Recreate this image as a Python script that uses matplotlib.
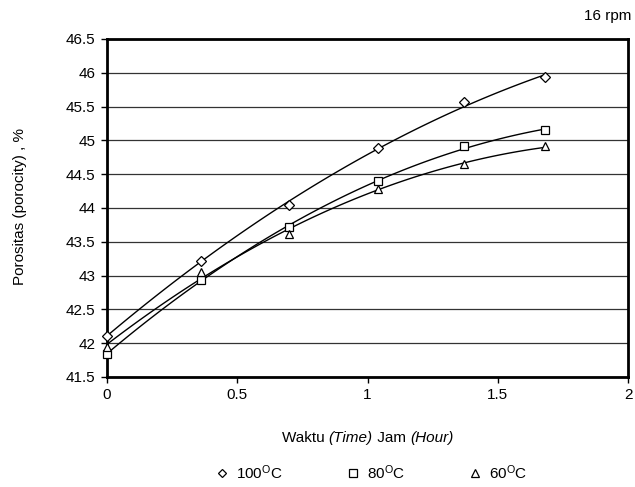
import numpy as np
import matplotlib
matplotlib.use("Agg")
import matplotlib.pyplot as plt

# data
waktu = [0, 0.36, 0.70, 1.04, 1.37, 1.68]
por_100 = [42.11, 43.22, 44.04, 44.88, 45.57, 45.93]
por_80 = [41.84, 42.93, 43.72, 44.40, 44.91, 45.15]
por_60 = [41.94, 43.05, 43.62, 44.28, 44.65, 44.91]
labels = ["100$^{\\mathrm{O}}$C", "80$^{\\mathrm{O}}$C", "60$^{\\mathrm{O}}$C"]
markers = ["D", "s", "^"]
y_ticks = [41.5, 42, 42.5, 43, 43.5, 44, 44.5, 45, 45.5, 46, 46.5]
x_ticks = [0, 0.5, 1, 1.5, 2]
xlabel_parts = [("Waktu ", "normal"), ("(Time)", "italic"), (" Jam ", "normal"), ("(Hour)", "italic")]

plt.rcParams["font.family"] = ["Liberation Sans", "DejaVu Sans"]
plt.rcParams["mathtext.fontset"] = "custom"
plt.rcParams["mathtext.rm"] = "Liberation Sans"
plt.rcParams["mathtext.it"] = "Liberation Sans:italic"

fig = plt.figure(figsize=(6.35, 4.87), dpi=100)
ax = fig.add_axes([0.168, 0.226, 0.8215, 0.694])

t = np.array(waktu)
handles = []
for ys, m, lab in zip([por_100, por_80, por_60], markers, labels):
    # excel style 2nd order trendline
    c = np.polyfit(t, ys, 2)
    tt = np.linspace(0, t[-1], 100)
    ax.plot(tt, np.polyval(c, tt), color="black", lw=1.0, zorder=3)
    ms = 5 if m == "D" else 6
    h, = ax.plot(t, ys, linestyle="none", marker=m, ms=ms, mfc="white",
                 mec="black", mew=0.9, zorder=4, label=lab, clip_on=False)
    handles.append(h)

ax.set_xlim(0, 2)
ax.set_ylim(41.5, 46.5)
ax.set_xticks(x_ticks)
ax.set_xticklabels(["0", "0.5", "1", "1.5", "2"])
ax.set_yticks(y_ticks)
ax.set_yticklabels(["41.5", "42", "42.5", "43", "43.5", "44", "44.5", "45", "45.5", "46", "46.5"])
ax.tick_params(direction="out", length=4, width=1, labelsize=11, pad=4)
ax.yaxis.grid(True, color="#333333", lw=0.9)
ax.set_axisbelow(True)
for s in ax.spines.values():
    s.set_linewidth(2)

# x label in pieces so the parentheses are italic too
renderer = fig.canvas.get_renderer()
pieces = []
for txt, st in xlabel_parts:
    pieces.append(fig.text(0, 1 - 438 / 487, txt, fontsize=11, style=st, va="center"))
widths = [p.get_window_extent(renderer).width for p in pieces]
x0 = (367.5 - sum(widths) / 2) / 635
for p, w in zip(pieces, widths):
    p.set_x(x0)
    x0 += w / 635

fig.text(0.032, 0.575, "Porositas (porocity) , %", rotation=90, fontsize=11,
         ha="center", va="center")
fig.text(0.995, 0.968, "16 rpm", fontsize=11, ha="right", va="center")

fig.legend(handles=handles, loc="center", bbox_to_anchor=(0.584, 0.03), ncol=3,
           frameon=False, fontsize=11, handlelength=1.0, handletextpad=0.4,
           columnspacing=4.1, markerscale=0.9)

fig.savefig("out.png", dpi=100)
